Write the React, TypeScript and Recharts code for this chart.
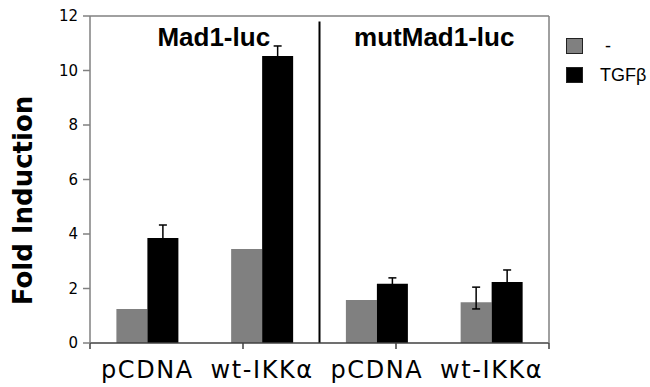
import React from 'react';
import {
  BarChart, Bar, XAxis, YAxis, ErrorBar, ReferenceLine, ReferenceArea, Legend, Label,
} from 'recharts';

const categoryIds = ['mad-pcdna', 'mad-wt', 'mut-pcdna', 'mut-wt'];
const categoryLabels = ['pCDNA', 'wt-IKKα', 'pCDNA', 'wt-IKKα'];
const controlValues = [1.25, 3.45, 1.58, 1.5];
const controlErrors: (number[] | null)[] = [null, null, null, [0.25, 0.55]];
const tgfValues = [3.85, 10.53, 2.17, 2.24];
const tgfErrors = [0.48, 0.37, 0.22, 0.44];
const yTicks = [0, 2, 4, 6, 8, 10, 12];
const boundaryTicks = [0, 1, 2, 3, 4];
const panelTitles = ['Mad1-luc', 'mutMad1-luc'];
const seriesNames = ['-', 'TGFβ'];

const data = categoryIds.map((id, i) => ({
  id,
  control: controlValues[i],
  controlErr: controlErrors[i],
  tgf: tgfValues[i],
  tgfErr: tgfErrors[i],
}));

const GRAY = '#808080';
const AXIS = '#808080';
const BOTTOM = '#404040';

const renderLegend = (props: any) => {
  const payload = props.payload || [];
  return (
    <div style={{ fontFamily: '"Liberation Sans", Arial, sans-serif', fontSize: 18, color: '#000' }}>
      {payload.map((p: any, i: number) => (
        <div key={i} style={{ display: 'flex', alignItems: 'center', height: 16, marginBottom: 13 }}>
          <div
            style={{
              width: 17,
              height: 16,
              boxSizing: 'border-box',
              background: p.color,
              border: '1.5px solid #222',
            }}
          />
          <span style={{ marginLeft: i === 0 ? 22 : 17, lineHeight: '16px' }}>{p.value}</span>
        </div>
      ))}
    </div>
  );
};

export default function App() {
  return (
    <div style={{ position: 'absolute', left: 0, top: 0, width: 650, height: 387, background: '#fff' }}>
      <BarChart
        width={650}
        height={387}
        data={data}
        margin={{ top: 15, right: 100, left: 0, bottom: 0 }}
        barCategoryGap="23%"
        barGap={0}
      >
        <XAxis
          xAxisId="a_bounds"
          type="number"
          domain={[0, 4]}
          ticks={boundaryTicks}
          tickFormatter={() => ''}
          tickSize={6}
          tickLine={{ stroke: BOTTOM, strokeWidth: 1.5 }}
          axisLine={{ stroke: BOTTOM, strokeWidth: 1.5 }}
          height={1}
          allowDataOverflow
        />
        <XAxis
          dataKey="id"
          xAxisId="b_cat"
          axisLine={false}
          tickLine={false}
          tickSize={0}
          tickMargin={17}
          height={43}
          interval={0}
          tickFormatter={(_v: any, i: number) => categoryLabels[i]}
          tick={{ fontFamily: '"DejaVu Sans", Verdana, sans-serif', fontSize: 24, fill: '#000', letterSpacing: 1.6 }}
        />
        <XAxis
          dataKey="id"
          xAxisId="c_top"
          orientation="top"
          height={1}
          tick={false}
          tickLine={false}
          axisLine={{ stroke: AXIS, strokeWidth: 1.5 }}
        />
        <YAxis
          yAxisId="left"
          domain={[0, 12]}
          ticks={yTicks}
          width={90}
          tickSize={7}
          tickMargin={5}
          tickLine={{ stroke: AXIS, strokeWidth: 1.5 }}
          axisLine={{ stroke: AXIS, strokeWidth: 1.5 }}
          tick={{ fontFamily: '"DejaVu Sans", Verdana, sans-serif', fontSize: 15, fill: '#000' }}
        >
          <Label
            value="Fold Induction"
            angle={-90}
            position="center"
            dx={-22}
            dy={21}
            style={{ fontFamily: '"DejaVu Sans", Verdana, sans-serif', fontSize: 26, fontWeight: 'bold', fill: '#000', textAnchor: 'middle' }}
          />
        </YAxis>
        <YAxis
          yAxisId="right"
          orientation="right"
          domain={[0, 12]}
          width={1}
          tick={false}
          tickLine={false}
          axisLine={{ stroke: AXIS, strokeWidth: 1.5 }}
        />
        <ReferenceArea
          xAxisId="b_cat"
          yAxisId="left"
          x1={categoryIds[0]}
          x2={categoryIds[1]}
          fill="none"
          fillOpacity={0}
          stroke="none"
        >
          <Label
            value={panelTitles[0]}
            position="insideTop"
            offset={11.5}
            dx={9}
            style={{ fontFamily: '"Liberation Sans", Arial, sans-serif', fontSize: 26, fontWeight: 'bold', fill: '#000' }}
          />
        </ReferenceArea>
        <ReferenceArea
          xAxisId="b_cat"
          yAxisId="left"
          x1={categoryIds[2]}
          x2={categoryIds[3]}
          fill="none"
          fillOpacity={0}
          stroke="none"
        >
          <Label
            value={panelTitles[1]}
            position="insideTop"
            offset={11.5}
            style={{ fontFamily: '"Liberation Sans", Arial, sans-serif', fontSize: 26, fontWeight: 'bold', fill: '#000' }}
          />
        </ReferenceArea>
        <ReferenceLine
          xAxisId="b_cat"
          yAxisId="left"
          position="end"
          segment={[{ x: categoryIds[1], y: 0 }, { x: categoryIds[1], y: 11.8 }]}
          stroke="#000"
          strokeWidth={2}
        />
        <Bar xAxisId="b_cat" yAxisId="left" dataKey="control" name={seriesNames[0]} fill={GRAY} isAnimationActive={false}>
          <ErrorBar dataKey="controlErr" width={4} stroke="#000" strokeWidth={1.5} direction="y" />
        </Bar>
        <Bar xAxisId="b_cat" yAxisId="left" dataKey="tgf" name={seriesNames[1]} fill="#000" isAnimationActive={false}>
          <ErrorBar dataKey="tgfErr" width={4} stroke="#000" strokeWidth={1.5} direction="y" />
        </Bar>
        <Legend
          layout="horizontal"
          verticalAlign="middle"
          align="center"
          content={renderLegend}
          wrapperStyle={{ position: 'absolute', left: 566, top: 38, width: 84, height: 60 }}
        />
      </BarChart>
    </div>
  );
}
